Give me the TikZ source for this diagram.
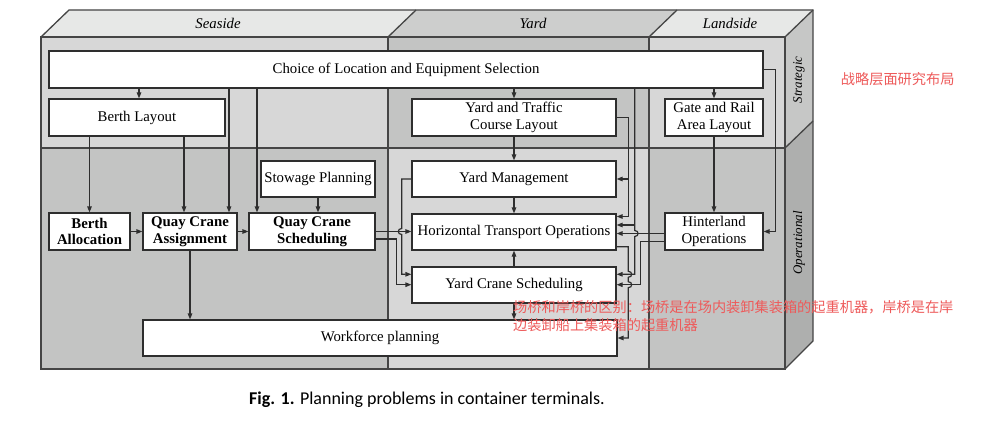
\documentclass[tikz,border=0pt]{standalone}
\usepackage{fontspec}
\setmainfont{Liberation Serif}
\newfontfamily\cjkfont{Noto Sans CJK SC}
\newfontfamily\capfont{Carlito}
\usetikzlibrary{arrows.meta,calc}
\definecolor{lg}{HTML}{D7D7D7}
\definecolor{dg}{HTML}{C3C4C3}
\definecolor{tl}{HTML}{E7E8E7}
\definecolor{td}{HTML}{CDCECD}
\definecolor{sd}{HTML}{C6C7C6}
\definecolor{so}{HTML}{AEAFAE}
\definecolor{framec}{HTML}{454545}
\definecolor{conn}{HTML}{2E2E2E}
\definecolor{annot}{HTML}{EE5A5A}
\newcommand{\myboxfont}{\fontsize{14.8}{16.6}\selectfont}
\newcommand{\myitalfont}{\fontsize{14.8}{16.6}\selectfont\itshape}
\newcommand{\mysidefont}{\fontsize{13}{15}\selectfont\itshape}
\tikzset{
  box/.style={draw=conn, line width=1.2pt, fill=white, inner sep=0pt, align=center, font=\myboxfont},
  bbox/.style={box, font=\myboxfont\bfseries},
  arr/.style={draw=conn, line width=1.2pt, -{Triangle[length=6pt,width=4.5pt]}},
  framel/.style={draw=framec, line width=1.3pt},
}
\begin{document}
\begin{tikzpicture}[x=1pt,y=-1pt]
\useasboundingbox (0,0) rectangle (991,428);
\fill[white] (0,0) rectangle (991,428);
% front face regions
\fill[lg] (41,37) rectangle (388,148);
\fill[dg] (41,148) rectangle (388,369);
\fill[dg] (388,37) rectangle (649,148);
\fill[lg] (388,148) rectangle (649,369);
\fill[lg] (649,37) rectangle (785,148);
\fill[dg] (649,148) rectangle (785,369);
% top faces
\fill[tl] (41,37) -- (69,10) -- (416,10) -- (388,37) -- cycle;
\fill[td] (388,37) -- (416,10) -- (677,10) -- (649,37) -- cycle;
\fill[tl] (649,37) -- (677,10) -- (813,10) -- (785,37) -- cycle;
% right face
\fill[sd] (785,37) -- (813,10) -- (813,121) -- (785,148) -- cycle;
\fill[so] (785,148) -- (813,121) -- (813,341) -- (785,369) -- cycle;
% outlines
\draw[framel] (41,37) rectangle (785,369);
\draw[framel] (41,148) -- (785,148);
\draw[framel] (388,37) -- (388,369);
\draw[framel] (649,37) -- (649,369);
\draw[framel] (41,37) -- (69,10) -- (813,10) -- (813,341) -- (785,369);
\draw[framel] (388,37) -- (416,10);
\draw[framel] (649,37) -- (677,10);
\draw[framel] (785,37) -- (813,10);
\draw[framel] (785,148) -- (813,121);
% labels
\node[font=\myitalfont] (lsea) at (218,23) {Seaside};
\node[font=\myitalfont] (lyard) at (533,23) {Yard};
\node[font=\myitalfont] (lland) at (730,23) {Landside};
\node[font=\mysidefont, rotate=90] (lstrat) at (799,80) {Strategic};
\node[font=\mysidefont, rotate=90] (lop) at (799,243) {Operational};
% boxes
\node[box, minimum width=714pt, minimum height=37pt] (choice) at (406,69.5) {Choice of Location and Equipment Selection};
\node[box, minimum width=176pt, minimum height=37pt] (bl) at (137,117.5) {Berth Layout};
\node[box, minimum width=204pt, minimum height=37pt] (ytc) at (514,117.5) {Yard and Traffic\\Course Layout};
\node[box, minimum width=98pt, minimum height=37pt] (gra) at (714,117.5) {Gate and Rail\\Area Layout};
\node[box, minimum width=114pt, minimum height=36pt] (stow) at (318,179) {Stowage Planning};
\node[bbox, minimum width=81pt, minimum height=37pt] (ba) at (89.5,231.5) {Berth\\Allocation};
\node[bbox, minimum width=94pt, minimum height=37pt] (qca) at (190,231.5) {Quay Crane\\Assignment};
\node[bbox, minimum width=126pt, minimum height=37pt] (qcs) at (312,231.5) {Quay Crane\\Scheduling};
\node[box, minimum width=204pt, minimum height=36pt] (ym) at (514,179) {Yard Management};
\node[box, minimum width=204pt, minimum height=36pt] (hto) at (514,232) {Horizontal Transport Operations};
\node[box, minimum width=204pt, minimum height=36pt] (ycs) at (514,285) {Yard Crane Scheduling};
\node[box, minimum width=98pt, minimum height=37pt] (hin) at (714,231.5) {Hinterland\\Operations};
\node[box, minimum width=474pt, minimum height=36pt] (wf) at (380,338) {Workforce planning};
% helper coordinates
\coordinate (blT) at ([xshift=2pt]bl.north);
\coordinate (qcaT2) at ([xshift=39pt]qca.north);
\coordinate (qcsT1) at ([xshift=-55pt]qcs.north);
\coordinate (qcaT1) at ([xshift=-6pt]qca.north);
\coordinate (qcsE2) at ([yshift=-7.5pt]qcs.east);
\coordinate (ycsW1) at ([yshift=10.7pt]ycs.west);
\coordinate (ycsW2) at ([yshift=0.3pt]ycs.west);
\coordinate (xq) at (396.7,0);
\coordinate (xj) at (401.7,0);
\coordinate (jb1) at (xj |- qcs.east);
\coordinate (ra) at (628.3,0);
\coordinate (rb) at (634.7,0);
\coordinate (rc) at (640.7,0);
\coordinate (rd) at (775.7,0);
\coordinate (htoE1) at ([yshift=15.5pt]hto.east);
\coordinate (htoE2) at ([yshift=7pt]hto.east);
\coordinate (htoE3) at ([yshift=-1.5pt]hto.east);
\coordinate (htoE4) at ([yshift=-14.7pt]hto.east);
\coordinate (ycsE1) at ([yshift=10.7pt]ycs.east);
\coordinate (ycsE2) at ([yshift=0.3pt]ycs.east);
\coordinate (hinB) at ([yshift=-10.2pt]hin.west);
\coordinate (jb2) at (rb |- htoE3);
\coordinate (jb3) at (ra |- ycsE1);
\coordinate (jb4) at (ra |- ycsE2);
% connectors: seaside
\draw[arr] (choice.south -| blT) -- (blT);
\draw[arr] (choice.south -| qcaT2) -- (qcaT2);
\draw[arr] (choice.south -| qcsT1) -- (qcsT1);
\draw[arr] (bl.south -| ba.north) -- (ba.north);
\draw[arr] (bl.south -| qcaT1) -- (qcaT1);
\draw[arr] (stow.south) -- (stow.south |- qcs.north);
\draw[arr] (ba.east) -- (qca.west);
\draw[arr] (qca.east) -- (qcs.west);
\draw[arr] (qca.south) -- (qca.south |- wf.north);
\draw[arr] (qcs.east) -- (qcs.east -| hto.west);
\draw[arr] (qcsE2) -| (xq |- ycsW2) -- (ycsW2);
\draw[arr] (ym.west) -- (ym.west -| jb1) -- ([yshift=3pt]jb1) .. controls +(-4.5,0) and +(-4.5,0) .. ([yshift=-3pt]jb1) |- (ycsW1);
% yard
\draw[arr] (choice.south -| ytc.north) -- (ytc.north);
\draw[arr] (ytc.south) -- (ym.north);
\draw[arr] (ym.south) -- (hto.north);
\draw[arr] (ycs.north) -- (hto.south);
\draw[arr] (ycs.south) -- (ycs.south |- wf.north);
\draw[arr] (ytc.east) -| (ra |- htoE1) -- (htoE1);
\draw[arr] (ra |- ym.east) -- (ym.east);
\draw[arr] (choice.south -| rb) -- ([yshift=3pt]jb2) .. controls +(4.5,0) and +(4.5,0) .. ([yshift=-3pt]jb2) |- (ycsE1);
\draw[arr] (rb |- htoE2) -- (htoE2);
\draw[arr] (hin.west |- htoE3) -- (htoE3);
\draw[arr] (hinB) -| (rc |- ycsE2) -- (ycsE2);
\draw[arr] (htoE4) -- (htoE4 -| ra) -- ([yshift=3pt]jb3) .. controls +(4.5,0) and +(4.5,0) .. ([yshift=-3pt]jb3) -- ([yshift=3pt]jb4) .. controls +(4.5,0) and +(4.5,0) .. ([yshift=-3pt]jb4) |- (wf.east);
% landside
\draw[arr] (choice.south -| gra.north) -- (gra.north);
\draw[arr] (gra.south) -- (hin.north);
\draw[arr] (choice.east) -| (rd |- hin.east) -- (hin.east);
% caption
\node[anchor=west, inner sep=0pt, font=\capfont\fontsize{18}{21}\selectfont] (cap) at (249,400) {\textbf{Fig. 1.} Planning problems in container terminals.};
% annotations
\node[anchor=west, inner sep=0pt, font=\cjkfont\fontsize{14.2}{18}\selectfont, text=annot] (note1) at (840.7,79) {战略层面研究布局};
\node[anchor=north west, inner sep=0pt, align=left, font=\cjkfont\fontsize{14.2}{18}\selectfont, text=annot] (note2) at (513,300.5) {场桥和岸桥的区别：场桥是在场内装卸集装箱的起重机器，岸桥是在岸\\边装卸船上集装箱的起重机器};
\end{tikzpicture}
\end{document}
